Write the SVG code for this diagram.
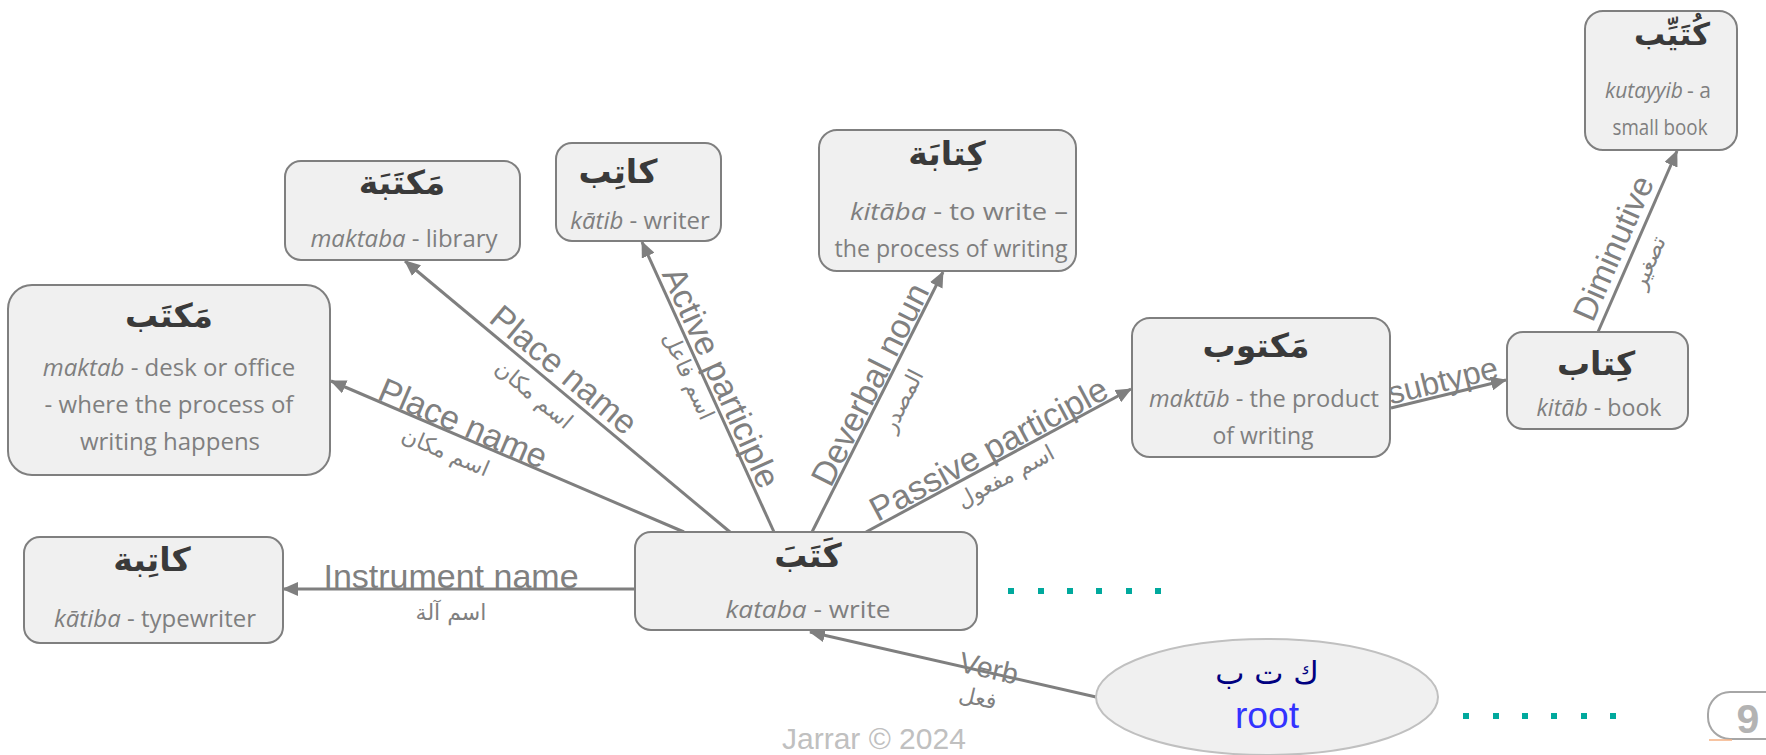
<svg xmlns="http://www.w3.org/2000/svg" width="1766" height="755" viewBox="0 0 1766 755">
<defs>
<style>
.node{fill:#f0f0f0;stroke:#7f7f7f;stroke-width:2}
.ar{font-family:"DejaVu Sans",sans-serif;font-weight:bold;font-size:33px;fill:#3a3a3a;text-anchor:middle}
.sub{font-family:"Open Sans","Liberation Sans",sans-serif;font-size:24px;fill:#7f7f7f;text-anchor:middle}
.it{font-style:italic}
.edge{stroke:#7f7f7f;stroke-width:3;fill:none;marker-end:url(#arr)}
.lbl{font-family:"Liberation Sans",Arial,sans-serif;font-size:34px;fill:#808080;text-anchor:middle}
.lar{font-family:"DejaVu Sans",sans-serif;font-size:22px;fill:#808080;text-anchor:middle}
.dot{fill:#00a99d}
</style>
<marker id="arr" markerUnits="userSpaceOnUse" markerWidth="16" markerHeight="14" refX="15" refY="7" orient="auto">
<path d="M0,0 L16,7 L0,14 Z" fill="#7f7f7f"/>
</marker>
</defs>
<rect width="1766" height="755" fill="#ffffff"/>

<g id="connectors">
<line class="edge" x1="730" y1="532" x2="405" y2="261"/>
<line class="edge" x1="684" y1="532" x2="331" y2="381"/>
<line class="edge" x1="774" y1="532" x2="642" y2="242"/>
<line class="edge" x1="812" y1="532" x2="943" y2="272"/>
<line class="edge" x1="866" y1="532" x2="1131" y2="389"/>
<line class="edge" x1="1391" y1="408" x2="1506" y2="380"/>
<line class="edge" x1="1598" y1="332" x2="1677" y2="151"/>
<line class="edge" x1="636" y1="589" x2="283" y2="589"/>
<line class="edge" x1="1096" y1="697" x2="810" y2="632"/>

<g transform="translate(551,382) rotate(39.9)">
<text class="lbl" x="2" y="-6">Place name</text>
<text class="lar" x="-5" y="28">اسم مكان</text>
</g>
<g transform="translate(456,435) rotate(23.1)">
<text class="lbl" x="2" y="-2">Place name</text>
<text class="lar" x="-3" y="27">اسم مكان</text>
</g>
<g transform="translate(707,384) rotate(65.6)">
<text class="lbl" x="0" y="-4">Active participle</text>
<text class="lar" x="-15" y="21">اسم فاعل</text>
</g>
<g transform="translate(883,391) rotate(-63.3)">
<text class="lbl" x="0" y="-3">Deverbal noun</text>
<text class="lar" x="0" y="29">المصدر</text>
</g>
<g transform="translate(995.5,462) rotate(-28.3)">
<text class="lbl" x="0" y="-3">Passive participle</text>
<text class="lar" x="2" y="25">اسم مفعول</text>
</g>
<g transform="translate(1446,394) rotate(-13.8)">
<text class="lbl" x="0" y="-3" style="font-size:32px">subtype</text>
</g>
<g transform="translate(1631,256) rotate(-66.4)">
<text class="lbl" x="0" y="-8" style="font-size:33px">Diminutive</text>
<text class="lar" x="1" y="26">تصغير</text>
</g>
<g transform="translate(988,672) rotate(12.95)">
<text class="lbl" x="0" y="6" style="font-size:29px">Verb</text>
<text class="lar" x="-4" y="35">فعل</text>
</g>
<text class="lbl" x="451" y="588">Instrument name</text>
<text class="lar" x="451" y="620">اسم آلة</text>
</g>

<g id="node-maktaba">
<rect class="node" x="285" y="161" width="235" height="99" rx="16"/>
<text class="ar" x="402" y="194">مَكتَبَة</text>
<text class="sub" x="404" y="247"><tspan class="it">maktaba</tspan> - library</text>
</g>

<g id="node-katib">
<rect class="node" x="556" y="143" width="165" height="98" rx="16"/>
<text class="ar" x="618" y="183">كاتِب</text>
<text class="sub" x="640" y="229"><tspan class="it">kātib</tspan> - writer</text>
</g>

<g id="node-kitaba">
<rect class="node" x="819" y="130" width="257" height="141" rx="18"/>
<text class="ar" x="947" y="165">كِتابَة</text>
<text class="sub" x="959" y="220" textLength="218" lengthAdjust="spacingAndGlyphs"><tspan class="it">kitāba</tspan> - to write –</text>
<text class="sub" x="951" y="257" textLength="233" lengthAdjust="spacingAndGlyphs">the process of writing</text>
</g>

<g id="node-kutayyib">
<rect class="node" x="1585" y="11" width="152" height="139" rx="18"/>
<text class="ar" x="1672" y="45" style="font-size:31px">كُتَيِّب</text>
<text class="sub it" x="1605" y="98" style="text-anchor:start;font-size:21px">kutayyib</text>
<text class="sub" x="1687" y="98" style="text-anchor:start;font-size:21px">- a</text>
<text class="sub" x="1660" y="135" style="font-size:22px" textLength="95" lengthAdjust="spacingAndGlyphs">small book</text>
</g>

<g id="node-maktab">
<rect class="node" x="8" y="285" width="322" height="190" rx="24"/>
<text class="ar" x="169" y="327">مَكتَب</text>
<text class="sub" x="169" y="376"><tspan class="it">maktab</tspan> - desk or office</text>
<text class="sub" x="169" y="413">- where the process of</text>
<text class="sub" x="170" y="450">writing happens</text>
</g>

<g id="node-maktub">
<rect class="node" x="1132" y="318" width="258" height="139" rx="18"/>
<text class="ar" x="1256" y="357">مَكتوب</text>
<text class="sub" x="1264" y="407" textLength="230" lengthAdjust="spacingAndGlyphs"><tspan class="it">maktūb</tspan> - the product</text>
<text class="sub" x="1263" y="444" textLength="101" lengthAdjust="spacingAndGlyphs">of writing</text>
</g>

<g id="node-kitab">
<rect class="node" x="1507" y="332" width="181" height="97" rx="16"/>
<text class="ar" x="1596" y="375">كِتاب</text>
<text class="sub" x="1599" y="416" textLength="125" lengthAdjust="spacingAndGlyphs"><tspan class="it">kitāb</tspan> - book</text>
</g>

<g id="node-katiba">
<rect class="node" x="24" y="537" width="259" height="106" rx="16"/>
<text class="ar" x="152" y="571">كاتِبة</text>
<text class="sub" x="155" y="627"><tspan class="it">kātiba</tspan> - typewriter</text>
</g>

<g id="node-kataba">
<rect class="node" x="635" y="532" width="342" height="98" rx="16"/>
<text class="ar" x="808" y="567">كَتَبَ</text>
<text class="sub" x="808" y="618" textLength="165" lengthAdjust="spacingAndGlyphs"><tspan class="it">kataba</tspan> - write</text>
</g>

<g id="node-root">
<ellipse cx="1267" cy="697" rx="171" ry="58" fill="#f0f0f0" stroke="#c0c0c0" stroke-width="2"/>
<text x="1267" y="684" style="font-family:'DejaVu Sans',sans-serif;font-size:31px;fill:#000080;text-anchor:middle">ك ت ب</text>
<text x="1267" y="728" style="font-family:'Liberation Sans',Arial,sans-serif;font-size:36px;fill:#3333ff;text-anchor:middle" textLength="64" lengthAdjust="spacingAndGlyphs">root</text>
</g>

<g id="dots">
<rect class="dot" x="1008" y="588" width="6" height="6"/>
<rect class="dot" x="1038" y="588" width="6" height="6"/>
<rect class="dot" x="1067" y="588" width="6" height="6"/>
<rect class="dot" x="1096" y="588" width="6" height="6"/>
<rect class="dot" x="1126" y="588" width="6" height="6"/>
<rect class="dot" x="1155" y="588" width="6" height="6"/>
<rect class="dot" x="1463" y="713" width="6" height="6"/>
<rect class="dot" x="1493" y="713" width="6" height="6"/>
<rect class="dot" x="1522" y="713" width="6" height="6"/>
<rect class="dot" x="1551" y="713" width="6" height="6"/>
<rect class="dot" x="1581" y="713" width="6" height="6"/>
<rect class="dot" x="1610" y="713" width="6" height="6"/>
</g>

<text x="782" y="749" style="font-family:'Liberation Sans',Arial,sans-serif;font-size:30px;fill:#c0c0c0">Jarrar © 2024</text>

<g id="page-number">
<rect x="1708" y="692" width="80" height="47" rx="22" fill="#ffffff" stroke="#a6a6a6" stroke-width="2"/>
<line x1="1709" y1="740" x2="1732" y2="740" stroke="#f4b183" stroke-width="1.5"/>
<text x="1748" y="733" style="font-family:'Liberation Sans',Arial,sans-serif;font-weight:bold;font-size:41px;fill:#b3b3b3;text-anchor:middle">9</text>
</g>
</svg>
